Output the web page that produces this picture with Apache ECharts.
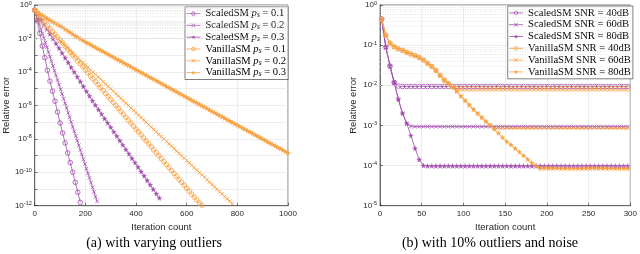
<!DOCTYPE html>
<html><head><meta charset="utf-8">
<script src="https://cdn.jsdelivr.net/npm/echarts@6/dist/echarts.min.js"></script>
<style>html,body{margin:0;padding:0;background:#fff}#c{width:640px;height:254px}</style>
</head><body><div id="c"></div>
<script>
// ---------- Panel (a): log10(relative error) vs iteration ----------
// ScaledSM p_s = 0.1, sampled every 10 iterations from 0
const a_scaled_01 = [-0.3,-0.95,-1.7,-2.45,-3.15,-3.9,-4.55,-5.15,-5.75,-6.4,
  -7.05,-7.65,-8.25,-8.85,-9.42,-10.0,-10.6,-11.2,-11.8];
// ScaledSM p_s = 0.2, every 6 iterations
const a_scaled_02 = [-0.3,-0.58,-0.86,-1.14,-1.42,-1.7,-1.97,-2.25,-2.53,-2.81,
  -3.09,-3.37,-3.65,-3.93,-4.21,-4.49,-4.76,-5.04,-5.32,-5.6,
  -5.88,-6.16,-6.44,-6.72,-7.0,-7.28,-7.55,-7.83,-8.11,-8.39,
  -8.67,-8.95,-9.23,-9.51,-9.79,-10.07,-10.34,-10.62,-10.9,-11.18,
  -11.46,-11.74];
// ScaledSM p_s = 0.3, every 12 iterations
const a_scaled_03 = [-0.3,-0.59,-0.87,-1.16,-1.44,-1.73,-2.01,-2.3,-2.58,-2.87,
  -3.16,-3.44,-3.73,-4.01,-4.3,-4.58,-4.87,-5.16,-5.44,-5.73,
  -5.99,-6.26,-6.52,-6.79,-7.05,-7.31,-7.58,-7.84,-8.11,-8.37,
  -8.64,-8.9,-9.17,-9.43,-9.69,-9.96,-10.22,-10.49,-10.75,-11.02,
  -11.28,-11.54];
// VanillaSM p_s = 0.1, every 10 iterations
const a_vanilla_01 = [-0.3,-0.45,-0.62,-0.8,-1.0,-1.2,-1.4,-1.58,-1.75,-1.93,
  -2.11,-2.28,-2.46,-2.64,-2.82,-2.99,-3.17,-3.35,-3.52,-3.7,
  -3.88,-4.05,-4.23,-4.41,-4.59,-4.76,-4.94,-5.12,-5.29,-5.47,
  -5.65,-5.82,-6.0,-6.18,-6.36,-6.53,-6.71,-6.89,-7.06,-7.24,
  -7.42,-7.59,-7.77,-7.95,-8.13,-8.3,-8.48,-8.66,-8.83,-9.01,
  -9.19,-9.36,-9.54,-9.72,-9.9,-10.07,-10.25,-10.43,-10.6,-10.78,
  -10.96,-11.13,-11.31,-11.49,-11.67,-11.84,-11.97];
// VanillaSM p_s = 0.2, every 10 iterations
const a_vanilla_02 = [-0.3,-0.7,-0.95,-1.15,-1.29,-1.44,-1.58,-1.72,-1.87,-2.01,
  -2.15,-2.29,-2.44,-2.58,-2.72,-2.87,-3.01,-3.15,-3.3,-3.44,
  -3.58,-3.72,-3.87,-4.01,-4.15,-4.3,-4.44,-4.58,-4.73,-4.87,
  -5.01,-5.15,-5.3,-5.44,-5.58,-5.73,-5.87,-6.01,-6.16,-6.3,
  -6.44,-6.58,-6.73,-6.87,-7.01,-7.16,-7.3,-7.44,-7.59,-7.73,
  -7.87,-8.01,-8.16,-8.3,-8.44,-8.59,-8.73,-8.87,-9.02,-9.16,
  -9.3,-9.44,-9.59,-9.73,-9.87,-10.02,-10.16,-10.3,-10.45,-10.59,
  -10.73,-10.87,-11.02,-11.16,-11.3,-11.45,-11.59,-11.73,-11.88];
// VanillaSM p_s = 0.3, every 10 iterations
const a_vanilla_03 = [-0.3,-0.42,-0.52,-0.62,-0.71,-0.8,-0.9,-1.0,-1.08,-1.16,
  -1.24,-1.33,-1.44,-1.54,-1.64,-1.74,-1.84,-1.93,-2.02,-2.11,
  -2.2,-2.28,-2.37,-2.45,-2.53,-2.62,-2.7,-2.78,-2.86,-2.95,
  -3.03,-3.11,-3.2,-3.28,-3.36,-3.45,-3.53,-3.61,-3.69,-3.78,
  -3.86,-3.94,-4.03,-4.11,-4.19,-4.28,-4.36,-4.44,-4.52,-4.61,
  -4.69,-4.77,-4.86,-4.94,-5.02,-5.1,-5.19,-5.27,-5.35,-5.44,
  -5.52,-5.6,-5.69,-5.77,-5.85,-5.93,-6.02,-6.1,-6.18,-6.27,
  -6.35,-6.43,-6.52,-6.6,-6.68,-6.76,-6.85,-6.93,-7.01,-7.1,
  -7.18,-7.26,-7.35,-7.43,-7.51,-7.59,-7.68,-7.76,-7.84,-7.93,
  -8.01,-8.09,-8.18,-8.26,-8.34,-8.42,-8.51,-8.59,-8.67,-8.76,
  -8.84];

// ---------- Panel (b): log10(relative error), sampled at iterations 2,7,12,...,297 ----------
const b_scaled_40 = [-0.35,-1.05,-1.52,-1.93,-2.02,-2.03,-2.03,-2.03,-2.03,-2.03,
  -2.03,-2.03,-2.03,-2.03,-2.03,-2.03,-2.03,-2.03,-2.03,-2.03,
  -2.03,-2.03,-2.03,-2.03,-2.03,-2.03,-2.03,-2.03,-2.03,-2.03,
  -2.03,-2.03,-2.03,-2.03,-2.03,-2.03,-2.03,-2.03,-2.03,-2.03,
  -2.03,-2.03,-2.03,-2.03,-2.03,-2.03,-2.03,-2.03,-2.03,-2.03,
  -2.03,-2.03,-2.03,-2.03,-2.03,-2.03,-2.03,-2.03,-2.03,-2.03];
const b_scaled_60 = [-0.35,-1.05,-1.52,-1.93,-2.35,-2.7,-2.95,-3.02,-3.03,-3.03,
  -3.03,-3.03,-3.03,-3.03,-3.03,-3.03,-3.03,-3.03,-3.03,-3.03,
  -3.03,-3.03,-3.03,-3.03,-3.03,-3.03,-3.03,-3.03,-3.03,-3.03,
  -3.03,-3.03,-3.03,-3.03,-3.03,-3.03,-3.03,-3.03,-3.03,-3.03,
  -3.03,-3.03,-3.03,-3.03,-3.03,-3.03,-3.03,-3.03,-3.03,-3.03,
  -3.03,-3.03,-3.03,-3.03,-3.03,-3.03,-3.03,-3.03,-3.03,-3.03];
const b_scaled_80 = [-0.35,-1.05,-1.52,-1.93,-2.35,-2.7,-2.95,-3.25,-3.57,-3.85,
  -4.0,-4.01,-4.01,-4.01,-4.01,-4.01,-4.01,-4.01,-4.01,-4.01,
  -4.01,-4.01,-4.01,-4.01,-4.01,-4.01,-4.01,-4.01,-4.01,-4.01,
  -4.01,-4.01,-4.01,-4.01,-4.01,-4.01,-4.01,-4.01,-4.01,-4.01,
  -4.01,-4.01,-4.01,-4.01,-4.01,-4.01,-4.01,-4.01,-4.01,-4.01,
  -4.01,-4.01,-4.01,-4.01,-4.01,-4.01,-4.01,-4.01,-4.01,-4.01];
const b_vanilla_40 = [-0.35,-0.75,-0.95,-1.04,-1.09,-1.13,-1.18,-1.22,-1.26,-1.31,
  -1.37,-1.45,-1.53,-1.63,-1.75,-1.87,-1.96,-2.04,-2.09,-2.09,
  -2.09,-2.09,-2.09,-2.09,-2.09,-2.09,-2.09,-2.09,-2.09,-2.09,
  -2.09,-2.09,-2.09,-2.09,-2.09,-2.09,-2.09,-2.09,-2.09,-2.09,
  -2.09,-2.09,-2.09,-2.09,-2.09,-2.09,-2.09,-2.09,-2.09,-2.09,
  -2.09,-2.09,-2.09,-2.09,-2.09,-2.09,-2.09,-2.09,-2.09,-2.09];
const b_vanilla_60 = [-0.35,-0.75,-0.95,-1.04,-1.09,-1.13,-1.18,-1.22,-1.26,-1.31,
  -1.37,-1.45,-1.53,-1.63,-1.75,-1.87,-1.96,-2.04,-2.15,-2.27,
  -2.38,-2.49,-2.6,-2.7,-2.8,-2.9,-2.99,-3.07,-3.07,-3.07,
  -3.07,-3.07,-3.07,-3.07,-3.07,-3.07,-3.07,-3.07,-3.07,-3.07,
  -3.07,-3.07,-3.07,-3.07,-3.07,-3.07,-3.07,-3.07,-3.07,-3.07,
  -3.07,-3.07,-3.07,-3.07,-3.07,-3.07,-3.07,-3.07,-3.07,-3.07];
const b_vanilla_80 = [-0.35,-0.75,-0.95,-1.04,-1.09,-1.13,-1.18,-1.22,-1.26,-1.31,
  -1.37,-1.45,-1.53,-1.63,-1.75,-1.87,-1.96,-2.04,-2.15,-2.27,
  -2.38,-2.49,-2.6,-2.7,-2.8,-2.9,-2.99,-3.09,-3.19,-3.3,
  -3.4,-3.48,-3.57,-3.66,-3.75,-3.84,-3.93,-4.01,-4.07,-4.07,
  -4.07,-4.07,-4.07,-4.07,-4.07,-4.07,-4.07,-4.07,-4.07,-4.07,
  -4.07,-4.07,-4.07,-4.07,-4.07,-4.07,-4.07,-4.07,-4.07,-4.07];

const namesA = ['ScaledSM p_s = 0.1','ScaledSM p_s = 0.2','ScaledSM p_s = 0.3',
                'VanillaSM p_s = 0.1','VanillaSM p_s = 0.2','VanillaSM p_s = 0.3'];
const namesB = ['ScaledSM SNR = 40dB','ScaledSM SNR = 60dB','ScaledSM SNR = 80dB',
                'VanillaSM SNR = 40dB','VanillaSM SNR = 60dB','VanillaSM SNR = 80dB'];
const xTicksA = {min: 0, max: 1000, interval: 200};
const xTicksB = {min: 0, max: 300, interval: 50};
const captionA = '(a) with varying outliers';
const captionB = '(b) with 10% outliers and noise';

// ---------- styling ----------
const PURPLE = '#a24dae', ORANGE = '#f9a03f', AXIS = '#262626';
const SANS = 'Liberation Sans, Arial, sans-serif';
const SERIF = 'Liberation Serif, Times New Roman, serif';
const KINDS = ['circle', 'cross', 'star', 'circle', 'cross', 'star'];
const COLORS = [PURPLE, PURPLE, PURPLE, ORANGE, ORANGE, ORANGE];
const SYM = {
  circle: {symbol: 'circle', size: 4.6, hollow: true},
  cross: {symbol: 'path://M0,0L10,10M10,0L0,10', size: 3.6, hollow: true},
  star: {symbol: 'path://M50,0L61,35L98,35L68,57L79,91L50,70L21,91L32,57L2,35L39,35Z', size: 5, hollow: false}
};
function itemStyleFor(kind, color) {
  return SYM[kind].hollow ? {color: 'rgba(255,255,255,0)', borderColor: color, borderWidth: 0.8}
                          : {color, borderColor: color, borderWidth: 0.3};
}

// sampling grid (iteration index) for each list
function pairs(logs, start, step) {
  return logs.map((l, i) => [start + step * i, Math.pow(10, l)]);
}
function series(name, data, idx, gi) {
  const kind = KINDS[idx], color = COLORS[idx], s = SYM[kind];
  return {
    name, type: 'line', xAxisIndex: gi, yAxisIndex: gi, data,
    symbol: s.symbol, symbolSize: s.size, showSymbol: true,
    lineStyle: {color, width: 0.8},
    itemStyle: itemStyleFor(kind, color),
    emphasis: {disabled: true}, animation: false
  };
}
function minorLines(kMin, kMax) {
  const out = [];
  for (let k = kMin; k < kMax; k++) for (let m = 2; m <= 9; m++) out.push({yAxis: m * Math.pow(10, k)});
  return out;
}
function minorSeries(gi, kMin, kMax) {
  return {type: 'line', xAxisIndex: gi, yAxisIndex: gi, data: [], silent: true, z: 1,
    markLine: {silent: true, symbol: ['none', 'none'], label: {show: false}, animation: false,
      lineStyle: {color: '#d9d9d9', width: 0.6, type: [1, 1.5]}, data: minorLines(kMin, kMax)}};
}
function xAx(gi, t) {
  return {type: 'value', gridIndex: gi, min: t.min, max: t.max, interval: t.interval,
    axisLine: {show: true, onZero: false, lineStyle: {color: AXIS, width: 0.6}},
    axisTick: {inside: true, length: 3, lineStyle: {color: AXIS, width: 0.6}},
    axisLabel: {fontFamily: SANS, fontSize: 8, color: AXIS, margin: 4, formatter: v => String(v)},
    splitLine: {show: true, lineStyle: {color: '#e3e3e3', width: 0.6}},
    name: 'Iteration count', nameLocation: 'middle', nameGap: 13,
    nameTextStyle: {fontFamily: SANS, fontSize: 9.5, color: AXIS}};
}
function yAx(gi, minExp, every, gap) {
  return {type: 'log', logBase: 10, gridIndex: gi, min: Math.pow(10, minExp), max: 1, interval: 1,
    axisLine: {show: true, lineStyle: {color: AXIS, width: 0.6}},
    axisTick: {inside: true, length: 3, lineStyle: {color: AXIS, width: 0.6}},
    axisLabel: {color: AXIS, margin: 3, fontFamily: SANS, fontSize: 8,
      formatter: v => { const e = Math.round(Math.log10(v)); return (e % every !== 0) ? '' : '10{s|' + e + '}'; },
      rich: {s: {fontFamily: SANS, fontSize: 5.5, verticalAlign: 'top', color: AXIS, padding: [0, 0, 4, 0]}}},
    splitLine: {show: true, lineStyle: {color: '#e3e3e3', width: 0.6}},
    name: 'Relative error', nameLocation: 'middle', nameGap: gap,
    nameTextStyle: {fontFamily: SANS, fontSize: 9.5, color: AXIS}};
}
function legend(names, left, top, fmt) {
  return {orient: 'vertical', left, top, itemGap: 0, itemWidth: 14, itemHeight: 4.5,
    data: names.map((n, i) => ({name: n, itemStyle: itemStyleFor(KINDS[i], COLORS[i]),
                                lineStyle: {color: COLORS[i], width: 0.8}})),
    padding: [1, 2, 1, 1], backgroundColor: '#fff', borderColor: AXIS, borderWidth: 0.6,
    selectedMode: false, formatter: fmt,
    textStyle: {fontFamily: SERIF, fontSize: 10.6, lineHeight: 11.8, color: '#000',
      rich: {i: {fontFamily: SERIF, fontStyle: 'italic', fontSize: 10.6, lineHeight: 11.8},
             s: {fontFamily: SERIF, fontStyle: 'italic', fontSize: 7.5, lineHeight: 11.8, verticalAlign: 'bottom'}}}};
}

const serA = [
  series(namesA[0], pairs(a_scaled_01, 0, 10), 0, 0),
  series(namesA[1], pairs(a_scaled_02, 0, 6), 1, 0),
  series(namesA[2], pairs(a_scaled_03, 0, 12), 2, 0),
  series(namesA[3], pairs(a_vanilla_01, 0, 10), 3, 0),
  series(namesA[4], pairs(a_vanilla_02, 0, 10), 4, 0),
  series(namesA[5], pairs(a_vanilla_03, 0, 10), 5, 0)
];
const serB = [
  series(namesB[0], pairs(b_scaled_40, 2, 5), 0, 1),
  series(namesB[1], pairs(b_scaled_60, 2, 5), 1, 1),
  series(namesB[2], pairs(b_scaled_80, 2, 5), 2, 1),
  series(namesB[3], pairs(b_vanilla_40, 2, 5), 3, 1),
  series(namesB[4], pairs(b_vanilla_60, 2, 5), 4, 1),
  series(namesB[5], pairs(b_vanilla_80, 2, 5), 5, 1)
];

const chart = echarts.init(document.getElementById('c'), null, {renderer: 'canvas'});
chart.setOption({
  animation: false,
  backgroundColor: '#fff',
  grid: [
    {left: 32.3, top: 5, width: 255.7, height: 200.7, show: true, borderColor: AXIS, borderWidth: 0.6, backgroundColor: '#fff'},
    {left: 380, top: 5, width: 253.6, height: 200.7, show: true, borderColor: AXIS, borderWidth: 0.6, backgroundColor: '#fff'}
  ],
  xAxis: [xAx(0, xTicksA), xAx(1, xTicksB)],
  yAxis: [yAx(0, -12, 2, 18), yAx(1, -5, 1, 22)],
  legend: [
    legend(namesA, 185, 6.7, n => { const m = n.split(' p_s = '); return m[0] + ' {i|p}{s|s} = ' + m[1]; }),
    legend(namesB, 507.7, 6, n => n)
  ],
  graphic: [
    {type: 'text', x: 154, y: 243, style: {text: captionA, font: '14px ' + SERIF, fill: '#000', align: 'center', verticalAlign: 'middle'}},
    {type: 'text', x: 490, y: 243, style: {text: captionB, font: '14px ' + SERIF, fill: '#000', align: 'center', verticalAlign: 'middle'}}
  ],
  series: [minorSeries(0, -12, 0), minorSeries(1, -5, 0)].concat(serA, serB)
});
</script>
</body></html>
